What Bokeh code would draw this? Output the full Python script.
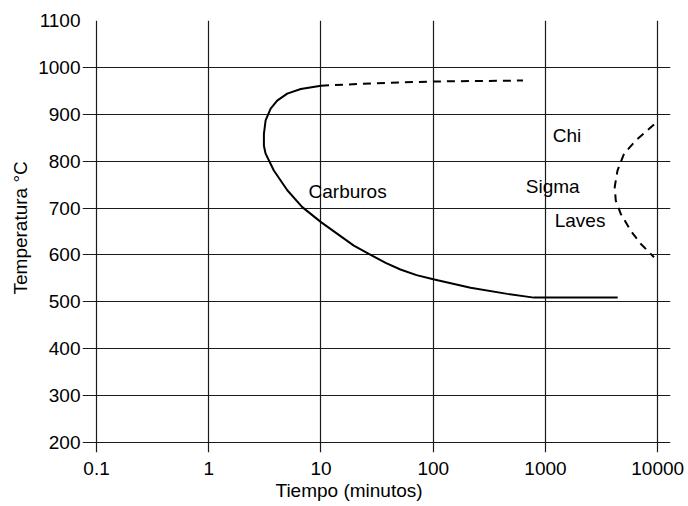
from bokeh.plotting import figure
from bokeh.models import Range1d, FixedTicker, Title
from bokeh.core.properties import value
from bokeh.embed import file_html
from bokeh.resources import INLINE

# ---- data ----
x_ticks = [0.1, 1, 10, 100, 1000, 10000]
x_tick_labels = ["0.1", "1", "10", "100", "1000", "10000"]
y_ticks = [200, 300, 400, 500, 600, 700, 800, 900, 1000, 1100]

carb_t = [10, 6.6, 5.0, 4.07, 3.56, 3.21, 3.1, 3.1, 3.21, 3.8, 5.01, 6.81, 10,
          14.0, 19.6, 27.7, 37.7, 51, 71, 100, 215, 457, 790, 4400]
carb_T = [961, 954, 944, 929, 912, 887, 858, 833, 816, 780, 738, 702, 670,
          645, 620, 600, 583, 569, 557, 548, 530, 517, 509, 509]

carb_top_t = [10, 29, 100, 630]
carb_top_T = [961, 966, 970, 972]

inter_t = [9270, 6370, 5010, 4380, 4140, 4230, 4680, 5740, 7050, 9270]
inter_T = [878, 844, 816, 780, 745, 716, 688, 652, 624, 595]

label_text = ["Carburos", "Chi", "Sigma", "Laves"]
label_t = [7.74, 1159, 667, 1208]
label_T = [736, 855, 745, 674]

x_title = "Tiempo (minutos)"
y_title = "Temperatura °C"

FONT = "Liberation Sans"
FS = "19px"

p = figure(width=688, height=506, x_axis_type="log",
           x_range=Range1d(0.075, 13000), y_range=Range1d(178.7, 1100),
           output_backend="svg", toolbar_location=None,
           min_border_left=82, min_border_right=18, min_border_top=20, min_border_bottom=54)
p.frame_width = 588
p.frame_height = 432
p.outline_line_color = None
p.background_fill_color = "white"
p.border_fill_color = "white"

p.xaxis.ticker = FixedTicker(ticks=x_ticks)
p.xaxis.major_label_overrides = {t: l for t, l in zip(x_ticks, x_tick_labels)}
p.yaxis.ticker = FixedTicker(ticks=y_ticks)
for ax in (p.xaxis[0], p.yaxis[0]):
    ax.axis_line_color = None
    ax.major_tick_line_color = None
    ax.minor_tick_line_color = None
    ax.major_tick_out = 0
    ax.major_tick_in = 0
    ax.major_label_text_font = FONT
    ax.major_label_text_font_size = FS
    ax.major_label_text_color = "black"
p.xaxis.major_label_standoff = 9
p.yaxis.major_label_standoff = 2

p.xgrid.ticker = FixedTicker(ticks=x_ticks)
p.ygrid.ticker = FixedTicker(ticks=y_ticks)
for g in (p.xgrid[0], p.ygrid[0]):
    g.grid_line_color = "#1a1a1a"
    g.grid_line_width = 1.2
    g.minor_grid_line_color = None

p.line(carb_t, carb_T, line_color="black", line_width=2, line_join="round")
p.line(carb_top_t, carb_top_T, line_color="black", line_width=2, line_dash="8 6")
p.line(inter_t, inter_T, line_color="black", line_width=2, line_dash="8 6")

p.text(x=label_t, y=label_T, text=label_text, text_font=value(FONT),
       text_font_size=FS, text_align="left", text_baseline="middle", text_color="black")

p.add_layout(Title(text=x_title, align="left", offset=193, standoff=0,
                   text_font=FONT, text_font_size=FS, text_font_style="normal",
                   text_color="black"), "below")
p.add_layout(Title(text=y_title, align="left", offset=158, standoff=9,
                   text_font=FONT, text_font_size=FS, text_font_style="normal",
                   text_color="black"), "left")

open("out.html", "w").write(file_html(p, INLINE))
